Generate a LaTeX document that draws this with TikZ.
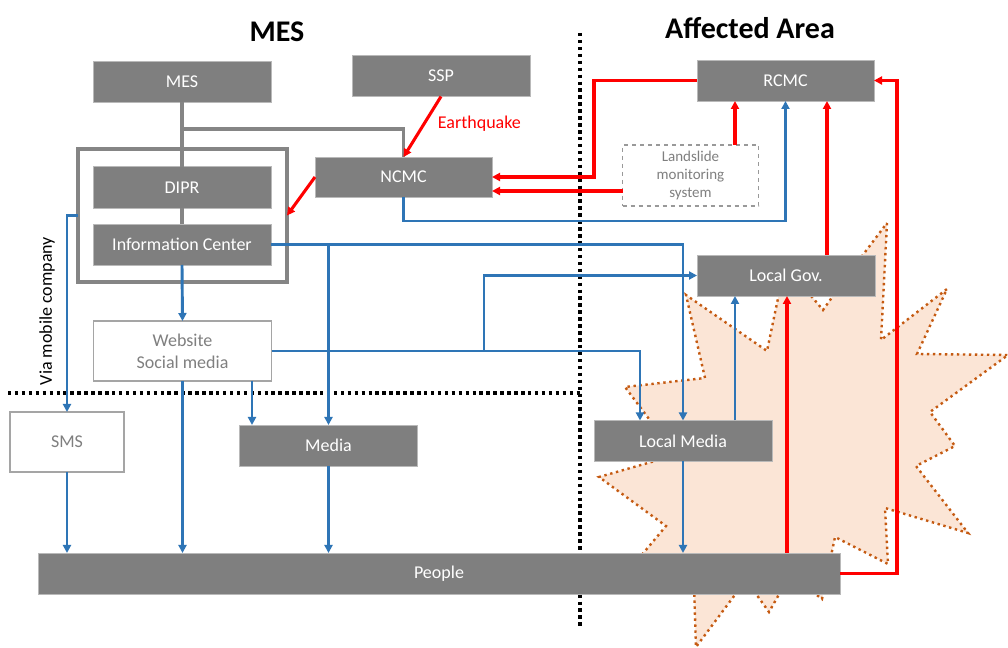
\documentclass[tikz,border=0pt]{standalone}
\usepackage{fontspec}
\setmainfont{Carlito}
\usetikzlibrary{arrows.meta,calc}
\definecolor{boxgray}{HTML}{7F7F7F}
\definecolor{linegray}{HTML}{858585}
\definecolor{flowblue}{HTML}{2E75B6}
\definecolor{alertred}{HTML}{FF0000}
\definecolor{burstfill}{HTML}{FBE5D6}
\definecolor{burstline}{HTML}{C55A11}
\begin{document}
\begin{tikzpicture}[x=0.75pt,y=-0.75pt,
  every node/.style={inner sep=0pt, outer sep=0pt},
  lbl/.style={font=\fontsize{13.5}{16.5}\selectfont},
  gbox/.style={lbl, fill=boxgray, draw=boxgray!55, line width=0.6pt, text=white,
               minimum width=133.5pt, minimum height=30.75pt},
  wbox/.style={lbl, fill=white, draw=boxgray!70, line width=0.8pt, text=boxgray,
               align=center, minimum width=133.5pt, minimum height=45pt},
  title/.style={font=\fontsize{22.5}{26}\selectfont\bfseries},
  flow/.style={draw=flowblue, line width=2.2pt, -{Triangle[length=6pt,width=6pt]}},
  alert/.style={draw=alertred, line width=2.3pt, -{Triangle[length=6pt,width=6pt]}},
  link/.style={draw=linegray, line width=2.3pt},
  divider/.style={draw=black, line width=2.4pt, dash pattern=on 2.6pt off 2.6pt}]

% canvas
\fill[white] (0,0) rectangle (1008,648);
\useasboundingbox (0,0) rectangle (1008,648);

% burst marking the affected area
\draw[fill=burstfill, draw=burstline, line width=1.8pt, dash pattern=on 1.8pt off 2.7pt]
  (887,223) -- (881,340) -- (947,289) -- (917,354) -- (1008,355) -- (930,412)
  -- (955,446) -- (916,466) -- (968,533) -- (885,508) -- (888,564) -- (835,537)
  -- (822,599) -- (790,575) -- (769,612) -- (746,580) -- (696,647) -- (694,585)
  -- (625,575) -- (666,526) -- (599,477) -- (676,455) -- (625,387) -- (705,378)
  -- (686,295) -- (767,351) -- (785,265) -- (823,310) -- (850,272) -- cycle;

% region dividers
\draw[divider] (580,33) -- (580,628);
\draw[divider] (8,393) -- (580,393);

% titles
\node[title] (tmes) at (277,32) {MES};
\node[title] (tarea) at (750,28) {Affected Area};

% nodes
\node[draw=linegray, line width=2.3pt, minimum width=156.75pt, minimum height=99.75pt] (frame) at (182.5,215.5) {};
\node[gbox] (mes) at (182,82) {MES};
\node[gbox] (ssp) at (441,76) {SSP};
\node[gbox, minimum height=31pt] (dipr) at (182,187.5) {DIPR};
\node[gbox] (info) at (182,244.5) {Information Center};
\node[gbox, minimum width=132.75pt, minimum height=30pt] (ncmc) at (403.5,177) {NCMC};
\node[gbox, minimum width=132.75pt] (rcmc) at (785.5,80.5) {RCMC};
\node[draw=boxgray!80, dashed, line width=0.8pt, text=boxgray, align=center,
      font=\fontsize{11.25}{13.5}\selectfont, minimum width=102pt, minimum height=45.75pt]
  (land) at (690.5,175.5) {Landslide\\monitoring\\system};
\node[gbox] (lgov) at (786,275.5) {Local Gov.};
\node[wbox] (web) at (182.5,351) {Website\\Social media};
\node[wbox, minimum width=85.5pt] (sms) at (67,442) {SMS};
\node[gbox] (media) at (328.5,445.5) {Media};
\node[gbox] (lmedia) at (683,441) {Local Media};
\node[gbox, minimum width=601.5pt] (people) at (439,573.5) {People};

\node[lbl, rotate=90] (via) at (47,311) {Via mobile company};

% junction coordinates
\coordinate (gy) at (0,129);
\coordinate (ny) at (0,221);
\coordinate (ly) at (0,191);
\coordinate (wx) at (484,0);
\coordinate (wm) at (252,0);
\coordinate (lx) at (735,0);
\coordinate (rx) at (594,0);
\coordinate (gx) at (827,0);
\coordinate (px) at (787,0);
\coordinate (ex) at (897,0);
\coordinate (mx) at (640,0);

% organisational links
\draw[link] (mes.south) -- (dipr.north);
\draw[link] (dipr.south) -- (info.north);
\draw[link] (mes.south |- gy) -| (ncmc.north);

% alerts
\draw[alert] (ssp.south) -- (ncmc.north)
  node[pos=0.42, anchor=west, xshift=9.5pt, yshift=-1pt, text=alertred, lbl] {Earthquake};
\draw[alert] (ncmc.west) -- (frame.east);
\draw[alert] (rcmc.west) -| (rx |- ncmc.east) -- (ncmc.east);
\draw[alert] (land.west |- ly) -- (ncmc.east |- ly);
\draw[alert] (land.north -| lx) -- (rcmc.south -| lx);
\draw[alert] (lgov.north -| gx) -- (rcmc.south -| gx);
\draw[alert] (people.north -| px) -- (lgov.south -| px);
\draw[alert] (people.east) -| (ex |- rcmc.east) -- (rcmc.east);

% information flow
\draw[flow] (ncmc.south) -- (ncmc.south |- ny) -| (rcmc.south);
\draw[flow] (info.east) -| (lmedia.north);
\draw[flow] (info.east -| media.north) -- (media.north);
\draw[flow] (info.south) -- (web.north);
\draw[flow] (frame.west) -| (sms.north);
\draw[flow] (web.east) -| (mx |- lmedia.north);
\draw[flow] (web.east -| wx) |- (lgov.west);
\draw[flow] (web.south -| wm) -- (media.north -| wm);
\draw[flow] (web.south) -- (web.south |- people.north);
\draw[flow] (sms.south) -- (sms.south |- people.north);
\draw[flow] (media.south) -- (media.south |- people.north);
\draw[flow] (lmedia.south) -- (lmedia.south |- people.north);
\draw[flow] (lmedia.north -| lx) -- (lgov.south -| lx);
\end{tikzpicture}
\end{document}
